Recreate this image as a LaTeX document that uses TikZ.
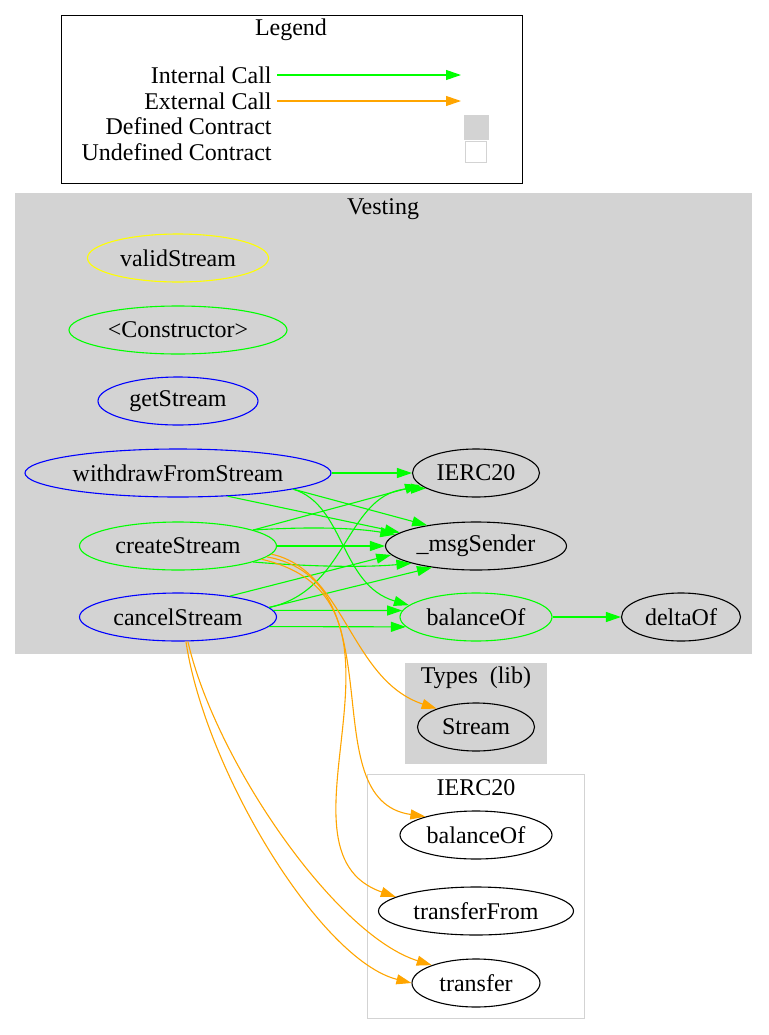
\documentclass[tikz,border=0pt]{standalone}
\usepackage{fontspec}
\setmainfont{Liberation Serif}
\usetikzlibrary{shapes.geometric,arrows.meta}

\definecolor{lgray}{HTML}{D3D3D3}
\definecolor{vgreen}{HTML}{00FF00}
\definecolor{vorange}{HTML}{FFA500}
\definecolor{vyellow}{HTML}{FFFF00}
\definecolor{vblue}{HTML}{0000FF}

\begin{document}
\begin{tikzpicture}[x=0.5pt,y=-0.5pt,font=\fontsize{12}{14}\selectfont,
                   fn/.style={ellipse,draw,inner sep=0pt,minimum height=24pt,line width=0.55pt},
                   int/.style={draw=vgreen,line width=0.55pt,-{Triangle[length=7.5pt,width=5pt]}},
                   ext/.style={draw=vorange,line width=0.55pt,-{Triangle[length=7.5pt,width=5pt]}},
                   lbl/.style={anchor=east,inner sep=0pt}]
\useasboundingbox (0,0) rectangle (768,1035);
\draw[line width=0.5pt,fill=white] (61,15) rectangle (522,183);
\node at (291,30) {Legend};
\node[lbl] (li) at (272,75) {Internal Call};
\node[lbl] (le) at (272,101) {External Call};
\node[lbl] (ld) at (272,126) {Defined Contract};
\node[lbl] (lu) at (272,152) {Undefined Contract};
\coordinate (lie) at (461,75);
\coordinate (lee) at (461,101);
\draw[int,shorten <=2.5pt] (li.east) -- (lie);
\draw[ext,shorten <=2.5pt] (le.east) -- (lee);
\node[draw=lgray,fill=lgray,minimum size=12pt,inner sep=0pt] (dc) at (476,127) {};
\node[draw=lgray,fill=white,minimum size=10.5pt,inner sep=0pt] (uc) at (476,152) {};

\fill[lgray] (15,193) rectangle (752,654);
\node at (383,209) {Vesting};
\draw[lgray,fill=lgray] (405,663) rectangle (546,763);
\node at (476,678) {Types\ \ (lib)};
\draw[lgray] (367,774) rectangle (584,1018);
\node at (476,788) {IERC20};

\node[fn,draw=vyellow,minimum width=90.5pt] (vs) at (178,258) {validStream};
\node[fn,draw=vgreen,minimum width=109pt] (ctor) at (178,330) {<Constructor>};
\node[fn,draw=vblue,minimum width=80pt] (gs) at (178,401) {getStream};
\node[fn,draw=vblue,minimum width=153pt] (wfs) at (178,473) {withdrawFromStream};
\node[fn,draw=vgreen,minimum width=98.5pt] (cs) at (178,546) {createStream};
\node[fn,draw=vblue,minimum width=98.5pt] (cancel) at (178,617) {cancelStream};
\node[fn,minimum width=63.5pt] (ierc) at (476,473) {IERC20};
\node[fn,minimum width=90.5pt] (msg) at (476,546) {\_msgSender};
\node[fn,draw=vgreen,minimum width=76pt] (bal) at (476,617) {balanceOf};
\node[fn,minimum width=59.5pt] (delta) at (681,617) {deltaOf};
\node[fn,minimum width=58.5pt] (stream) at (476,727) {Stream};
\node[fn,fill=white,minimum width=76pt] (ibal) at (476,835) {balanceOf};
\node[fn,fill=white,minimum width=97.5pt] (itf) at (476,911) {transferFrom};
\node[fn,fill=white,minimum width=64pt] (itr) at (476,983) {transfer};

\draw[int] (wfs) -- (ierc);
\draw[int] (wfs.-25) -- (msg.170);
\draw[int] (wfs.-8) -- (msg.157);
\draw[int] (wfs.-8) .. controls (345,505) and (340,585) .. (bal.170);
\draw[int] (cs.12) -- (ierc.192);
\draw[int] (cs.12) .. controls (300,527) and (350,527) .. (msg.172);
\draw[int] (cs) -- (msg);
\draw[int] (cs.-12) .. controls (300,566) and (360,568) .. (msg.195);
\draw[int] (cancel.6) .. controls (350,590) and (345,490) .. (ierc.197);
\draw[int] (cancel.22) -- (msg.186);
\draw[int] (cancel.6) -- (msg.206);
\draw[int] (cancel.4) -- (bal.175);
\draw[int] (cancel.-6) -- (bal.188);
\draw[int] (bal) -- (delta);
\draw[ext] (cs.-5) .. controls (345,570) and (350,680) .. (stream.155);
\draw[ext] (cs.-7) .. controls (400,580) and (310,800) .. (ibal.160);
\draw[ext] (cs.-9) .. controls (440,600) and (260,850) .. (itf.170);
\draw[ext] (cancel.-72) .. controls (205,770) and (320,960) .. (itr.west);
\draw[ext] (cancel.-68) .. controls (215,760) and (335,935) .. (itr.158);
\end{tikzpicture}
\end{document}
